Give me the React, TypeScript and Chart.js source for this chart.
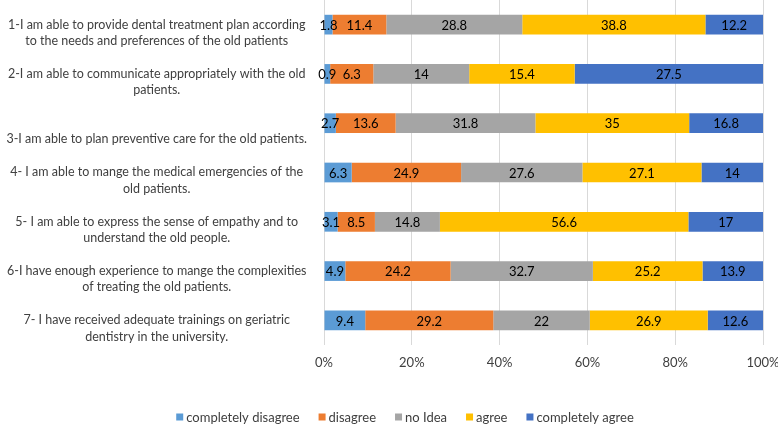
import React, { useEffect, useRef } from "react";
import { Chart, registerables } from "chart.js";

Chart.register(...registerables);

const categories: string[][] = [
  ["1-I am able to provide dental treatment plan according", "to the needs and preferences of the old patients"],
  ["2-I am able to communicate appropriately with the old", "patients."],
  ["", "3-I am able to plan preventive care for the old patients."],
  ["4- I am able to mange the medical emergencies of the", "old patients."],
  ["5- I am able to express the sense of empathy and to", "understand the old people."],
  ["6-I have enough experience to mange the complexities", "of treating the old patients."],
  ["7- I have received adequate trainings on geriatric", "dentistry in the university."],
];

const seriesNames = ["completely disagree", "disagree", "no Idea", "agree", "completely agree"];
const seriesColors = ["#5B9BD5", "#ED7D31", "#A5A5A5", "#FFC000", "#4472C4"];

const completelyDisagree = [1.8, 0.9, 2.7, 6.3, 3.1, 4.9, 9.4];
const disagree = [11.4, 6.3, 13.6, 24.9, 8.5, 24.2, 29.2];
const noIdea = [28.8, 14, 31.8, 27.6, 14.8, 32.7, 22];
const agree = [38.8, 15.4, 35, 27.1, 56.6, 25.2, 26.9];
const completelyAgree = [12.2, 27.5, 16.8, 14, 17, 13.9, 12.6];

const xTicks = [0, 20, 40, 60, 80, 100];

const FONT = "Lato";
const TEXT_COLOR = "#404040";

const seriesValues = [completelyDisagree, disagree, noIdea, agree, completelyAgree];
const rowTotals = categories.map((_, i) => seriesValues.reduce((s, arr) => s + arr[i], 0));

const dataLabelPlugin = {
  id: "segLabels",
  afterDatasetsDraw(chart: any) {
    const ctx = chart.ctx;
    ctx.save();
    ctx.font = `13px ${FONT}`;
    ctx.fillStyle = "#000000";
    ctx.textAlign = "center";
    ctx.textBaseline = "middle";
    chart.data.datasets.forEach((ds: any, di: number) => {
      const meta = chart.getDatasetMeta(di);
      meta.data.forEach((el: any, i: number) => {
        const raw = ds.rawValues[i];
        const cx = (el.x + el.base) / 2;
        ctx.fillText(String(raw), cx, el.y + 1);
      });
    });
    ctx.restore();
  },
};

const legendPlugin = {
  id: "customLegend",
  afterDraw(chart: any) {
    const ctx = chart.ctx;
    ctx.save();
    ctx.font = `13px ${FONT}`;
    const box = 7;
    const boxGap = 3;
    const itemGap = 19;
    const widths = seriesNames.map((n) => ctx.measureText(n).width);
    const total = widths.reduce((s, w) => s + box + boxGap + w, 0) + itemGap * (seriesNames.length - 1);
    const centerX = 405;
    const y = 417;
    let x = centerX - total / 2;
    ctx.textBaseline = "middle";
    ctx.textAlign = "left";
    seriesNames.forEach((n, i) => {
      ctx.fillStyle = seriesColors[i];
      ctx.fillRect(x, y - box / 2, box, box);
      x += box + boxGap;
      ctx.fillStyle = TEXT_COLOR;
      ctx.fillText(n, x, y + 1);
      x += widths[i] + itemGap;
    });
    ctx.restore();
  },
};

export default function App() {
  const ref = useRef<HTMLCanvasElement>(null);
  useEffect(() => {
    document.body.style.margin = "0";
    const chart = new Chart(ref.current!, {
      type: "bar",
      data: {
        labels: categories,
        datasets: seriesNames.map((name, si) => ({
          label: name,
          data: seriesValues[si].map((v, i) => (v / rowTotals[i]) * 100),
          rawValues: seriesValues[si],
          backgroundColor: seriesColors[si],
          borderWidth: 0,
          barPercentage: 0.4,
          categoryPercentage: 1,
        })) as any,
      },
      options: {
        indexAxis: "y",
        animation: false,
        responsive: false,
        layout: { padding: { top: 0, right: 15, left: 0, bottom: 0 } },
        plugins: {
          legend: { display: false },
          tooltip: { enabled: false },
        },
        scales: {
          x: {
            stacked: true,
            min: 0,
            max: 100,
            afterBuildTicks: (scale: any) => {
              scale.ticks = xTicks.map((v) => ({ value: v }));
            },
            ticks: {
              callback: (v: any) => `${v}%`,
              color: TEXT_COLOR,
              font: { family: FONT, size: 13 },
              padding: 10,
              maxRotation: 0,
            },
            grid: { color: "#D9D9D9", drawTicks: false, lineWidth: 1 },
            border: { display: false },
            afterFit: (scale: any) => {
              scale.height = 79;
              scale.paddingLeft = 0;
              scale.paddingRight = 0;
            },
          },
          y: {
            stacked: true,
            ticks: {
              color: TEXT_COLOR,
              font: { family: FONT, size: 12.5, lineHeight: 1.3 },
              crossAlign: "center",
              padding: 17,
              labelOffset: 8,
            },
            grid: { display: false, drawTicks: false },
            border: { display: false },
            afterFit: (scale: any) => {
              scale.width = 324;
              scale.paddingTop = 0;
              scale.paddingBottom = 0;
            },
          },
        },
      },
      plugins: [dataLabelPlugin, legendPlugin],
    });
    return () => chart.destroy();
  }, []);
  return (
    <div style={{ width: 778, height: 424 }}>
      <canvas ref={ref} width={778} height={424} style={{ display: "block" }} />
    </div>
  );
}
